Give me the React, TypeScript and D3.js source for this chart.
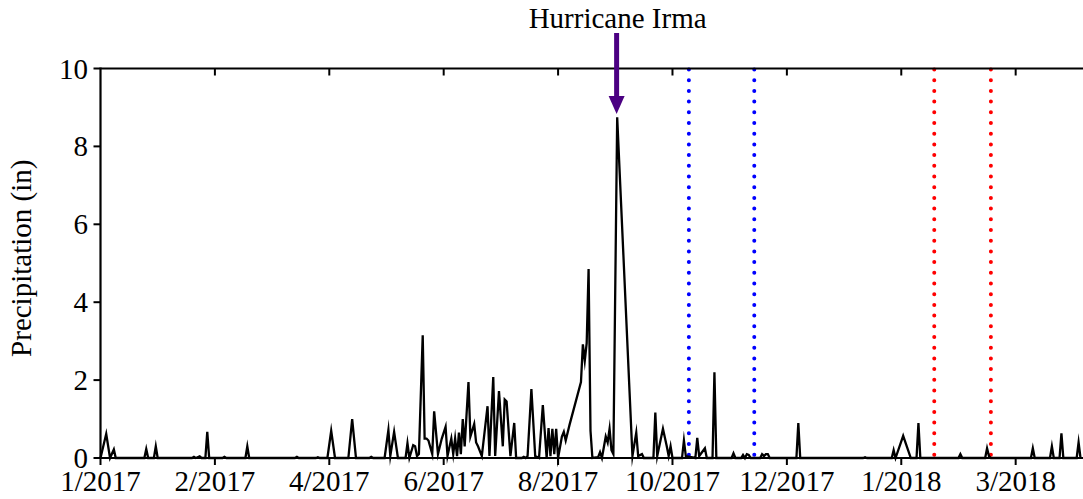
import React from "react";
import * as d3 from "d3";

// Days since 1/1/2017 and daily precipitation (in)
const days = [0,3,5,7,8,23,24,25,28,29,30,48,49,50,52,53,55,56,57,64,65,66,76,77,78,102,103,104,113,114,115,119,121,123,130,132,134,141,142,143,149,151,152,154,156,160,161,162,164,165,166,167,169,170,171,172,174,175,177,179,181,182,184,185,186,187,188,189,190,191,193,194,196,197,198,200,203,204,206,207,209,211,212,213,215,217,218,221,222,223,224,226,228,230,232,234,235,236,237,238,239,240,242,243,244,246,252,253,254,255,256,257,258,261,262,263,265,266,267,268,269,271,279,281,282,284,285,290,291,292,295,297,298,299,300,305,306,307,312,313,314,317,318,321,322,323,331,332,333,336,337,338,339,340,341,346,347,348,349,350,351,365,366,367,400,401,402,415,416,417,421,425,428,429,430,450,451,452,464,465,466,467,488,489,490,498,499,500,503,504,505,512,513,514];
const precip = [0,0.62,0,0.22,0,0,0.23,0,0,0.3,0,0,0.03,0,0.04,0,0,0.67,0,0,0.03,0,0,0.3,0,0,0.03,0,0,0.02,0,0,0.7,0,0,1.0,0,0,0.03,0,0,0.72,0.05,0.67,0,0,0.38,0,0.33,0.3,0.05,0.1,3.15,0.5,0.5,0.45,0.1,1.2,0.1,0.5,0.8,0.05,0.5,0.1,0.5,0.05,0.65,0.1,1.0,0.3,1.95,0.55,0.87,0.4,0.3,0.05,1.33,0.05,2.08,0.05,1.72,0.3,1.5,1.45,0.05,0.9,0,0,0.03,0,0.05,1.77,0.05,0,1.36,0,0.77,0.05,0.75,0.1,0.75,0,0.55,0.67,0.45,0.85,1.95,2.92,2.5,2.95,4.85,0.7,0,0.02,0.15,0,0.55,0.4,0.75,0.2,0.1,8.75,0.05,0.65,0.05,0.1,0,0,1.17,0.05,0.75,0.3,0.05,0.3,0,0,0.45,0.05,0,0.52,0.05,0.25,0,0,2.2,0,0,0.12,0,0,0.08,0,0.1,0.08,0,0,0.1,0.05,0.1,0.1,0,0,0.9,0,0,0.02,0,0,0.2,0,0.57,0,0,0.9,0,0,0.1,0,0,0.25,0.05,0,0,0.25,0,0,0.3,0,0,0.63,0,0,0.4,0];

const xTickDays = [0, 60, 120, 180, 240, 300, 360, 420, 480];
const xTickLabels = ["1/2017", "2/2017", "4/2017", "6/2017", "8/2017", "10/2017", "12/2017", "1/2018", "3/2018"];
const yTicks = [0, 2, 4, 6, 8, 10];
const blueLineDays = [308.6, 342.9];
const redLineDays = [437.3, 467.0];
const hurricaneDay = 270.7;
const hurricaneLabel = "Hurricane Irma";
const yLabel = "Precipitation (in)";

const W = 1083, H = 499;
const FONT = "'Liberation Serif', 'Times New Roman', serif";
const FS = 29;

export default function App() {
  const x = d3.scaleLinear().domain([0, 515]).range([100.5, 1082.4]);
  const y = d3.scaleLinear().domain([0, 10]).range([458, 68.5]);
  const pts = days.map((d, i) => [d, precip[i]] as [number, number]);
  const line = d3.line<[number, number]>().x(d => x(d[0])).y(d => y(d[1]));
  const x0 = x(0);
  const yb = y(0), yt = y(10);
  const ax = x(hurricaneDay);
  return (
    <svg width={W} height={H} style={{ position: "absolute", left: 0, top: 0, background: "#fff" }} fontFamily={FONT}>
      <rect width={W} height={H} fill="#fff" />
      {blueLineDays.map((d, i) => (
        <line key={"b" + i} x1={x(d)} x2={x(d)} y1={yt + 1} y2={yb} stroke="#0000ff" strokeWidth={4}
          strokeDasharray="0 10.7" strokeLinecap="round" />
      ))}
      {redLineDays.map((d, i) => (
        <line key={"r" + i} x1={x(d)} x2={x(d)} y1={yt + 1} y2={yb} stroke="#ff0000" strokeWidth={4}
          strokeDasharray="0 10.7" strokeLinecap="round" />
      ))}
      <path d={line(pts) || ""} fill="none" stroke="#000" strokeWidth={2.3} strokeLinejoin="miter" strokeMiterlimit={10} />
      <line x1={x0} x2={W} y1={yb} y2={yb} stroke="#000" strokeWidth={2.2} />
      <line x1={x0} x2={W} y1={yt} y2={yt} stroke="#000" strokeWidth={2.2} />
      <line x1={x0} x2={x0} y1={yt - 1} y2={yb + 1} stroke="#000" strokeWidth={2.2} />
      {xTickDays.map((d, i) => (
        <g key={"xt" + i}>
          <line x1={x(d)} x2={x(d)} y1={yb} y2={yb + 7} stroke="#000" strokeWidth={2} />
          {i > 0 && <line x1={x(d)} x2={x(d)} y1={yt} y2={yt + 7} stroke="#000" strokeWidth={2} />}
          <text x={x(d)} y={491} textAnchor="middle" fontSize={FS}>{xTickLabels[i]}</text>
        </g>
      ))}
      {yTicks.map((v, i) => (
        <g key={"yt" + i}>
          <line x1={x0 - 7} x2={x0} y1={y(v)} y2={y(v)} stroke="#000" strokeWidth={2} />
          <text x={88} y={y(v) + 10} textAnchor="end" fontSize={FS}>{v}</text>
        </g>
      ))}
      <text transform={`translate(31,${(yb + yt) / 2 - 5}) rotate(-90)`} textAnchor="middle" fontSize={FS}>{yLabel}</text>
      <text x={ax + 1} y={28} textAnchor="middle" fontSize={FS}>{hurricaneLabel}</text>
      <line x1={ax} x2={ax} y1={33} y2={97} stroke="#4b0082" strokeWidth={5} />
      <path d={`M${ax - 8},96 L${ax + 8},96 L${ax},114 Z`} fill="#4b0082" />
    </svg>
  );
}
